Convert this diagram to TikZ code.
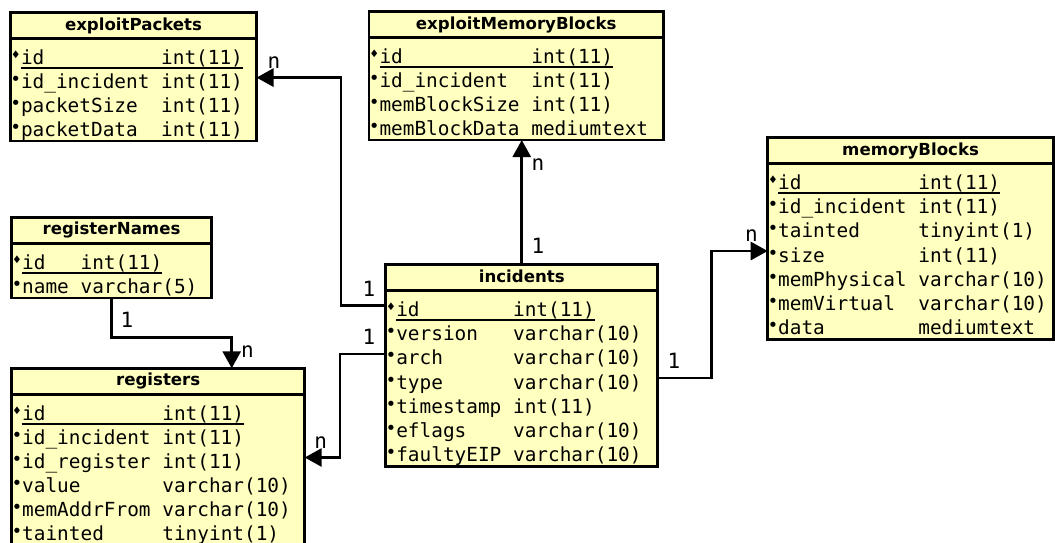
\documentclass[tikz,border=0pt]{standalone}
\usepackage{fontspec}
\usepackage{tikz}
\usetikzlibrary{positioning,arrows.meta}
\newfontfamily\ttlfont{DejaVu Sans}
\newfontfamily\rowfont{DejaVu Sans Mono}
\definecolor{tblyellow}{RGB}{255,255,192}
\newdimen\cw \cw=11.68pt
\newcommand\bul{\makebox[10.5pt][c]{\raisebox{3pt}{\fontsize{18}{18}\selectfont •}}}
\newcommand\dia{\makebox[10.5pt][c]{\raisebox{5pt}{\fontsize{13}{13}\selectfont ♦}}}
\newcommand\dbrow[2]{\bul\makebox[\nw\cw][l]{#1}#2}
\newcommand\dbkey[2]{\dia\setbox0\hbox{\makebox[\nw\cw][l]{#1}#2}\rlap{\rule[-4.5pt]{\wd0}{1.8pt}}\box0}

\begin{document}
\begin{tikzpicture}[x=1pt, y=-1pt,
  tbl/.style={draw, line width=2.8pt, fill=tblyellow, inner sep=0pt, outer sep=0pt, anchor=north west},
  ttl/.style={tbl, minimum height=26pt, font=\ttlfont\bfseries\fontsize{16.6}{18}\selectfont, text height=12pt, text depth=3pt},
  body/.style={tbl},
  field/.style={anchor=west, inner sep=0pt, outer sep=0pt, text height=22pt, text depth=0pt, align=left, font=\rowfont\fontsize{19.4}{22}\selectfont},
  rel/.style={line width=2.8pt, -{Triangle[length=17pt,width=18pt]}},
  mult/.style={font=\rowfont\fontsize{21}{22}\selectfont, inner sep=0pt}]
  \useasboundingbox (0,0) rectangle (1055,542);
  \clip (0,0) rectangle (1055,542);
  \fill[white] (0,0) rectangle (1055,542);
  \def\dy{24.1} % distance between two rows

  % exploitPackets
  \def\nw{12}
  \node[ttl, minimum width=246pt] (ep-t) at (10.5,12.5) {exploitPackets};
  \node[body, minimum width=246pt, minimum height=102.5pt] (ep) at (ep-t.south west) {};
  \foreach \nm/\ty [count=\k] in {id/int(11), id\_incident/int(11), packetSize/int(11), packetData/int(11)} {
    \node[field, text width=246pt] (ep-\k) at ([yshift={-(15+(\k-1)*\dy)*1pt}]ep.north west)
      {\ifnum\k=1 \dbkey{\nm}{\ty}\else\dbrow{\nm}{\ty}\fi};
  }

  % exploitMemoryBlocks
  \def\nw{13}
  \node[ttl, minimum width=294.5pt] (emb-t) at (369,11.5) {exploitMemoryBlocks};
  \node[body, minimum width=294.5pt, minimum height=102.5pt] (emb) at (emb-t.south west) {};
  \foreach \nm/\ty [count=\k] in {id/int(11), id\_incident/int(11), memBlockSize/int(11), memBlockData/mediumtext} {
    \node[field, text width=294.5pt] (emb-\k) at ([yshift={-(15+(\k-1)*\dy)*1pt}]emb.north west)
      {\ifnum\k=1 \dbkey{\nm}{\ty}\else\dbrow{\nm}{\ty}\fi};
  }

  % memoryBlocks
  \def\nw{12}
  \node[ttl, minimum width=285.8pt] (mb-t) at (767.7,137.7) {memoryBlocks};
  \node[body, minimum width=285.8pt, minimum height=176pt] (mb) at (mb-t.south west) {};
  \foreach \nm/\ty [count=\k] in {id/int(11), id\_incident/int(11), tainted/tinyint(1), size/int(11), memPhysical/varchar(10), memVirtual/varchar(10), data/mediumtext} {
    \node[field, text width=285.8pt] (mb-\k) at ([yshift={-(15+(\k-1)*\dy)*1pt}]mb.north west)
      {\ifnum\k=1 \dbkey{\nm}{\ty}\else\dbrow{\nm}{\ty}\fi};
  }

  % registerNames
  \def\nw{5}
  \node[ttl, minimum width=199.6pt] (rn-t) at (11.7,217.3) {registerNames};
  \node[body, minimum width=199.6pt, minimum height=54.7pt] (rn) at (rn-t.south west) {};
  \foreach \nm/\ty [count=\k] in {id/int(11), name/varchar(5)} {
    \node[field, text width=199.6pt] (rn-\k) at ([yshift={-(15+(\k-1)*\dy)*1pt}]rn.north west)
      {\ifnum\k=1 \dbkey{\nm}{\ty}\else\dbrow{\nm}{\ty}\fi};
  }

  % registers
  \def\nw{12}
  \node[ttl, minimum width=293pt] (rg-t) at (11.7,368.3) {registers};
  \node[body, minimum width=293pt, minimum height=151.5pt] (rg) at (rg-t.south west) {};
  \foreach \nm/\ty [count=\k] in {id/int(11), id\_incident/int(11), id\_register/int(11), value/varchar(10), memAddrFrom/varchar(10), tainted/tinyint(1)} {
    \node[field, text width=293pt] (rg-\k) at ([yshift={-(15+(\k-1)*\dy)*1pt}]rg.north west)
      {\ifnum\k=1 \dbkey{\nm}{\ty}\else\dbrow{\nm}{\ty}\fi};
  }

  % incidents
  \def\nw{10}
  \node[ttl, minimum width=271.9pt] (inc-t) at (385.8,264.7) {incidents};
  \node[body, minimum width=271.9pt, minimum height=175.5pt] (inc) at (inc-t.south west) {};
  \foreach \nm/\ty [count=\k] in {id/int(11), version/varchar(10), arch/varchar(10), type/varchar(10), timestamp/int(11), eflags/varchar(10), faultyEIP/varchar(10)} {
    \node[field, text width=271.9pt] (inc-\k) at ([yshift={-(15+(\k-1)*\dy)*1pt}]inc.north west)
      {\ifnum\k=1 \dbkey{\nm}{\ty}\else\dbrow{\nm}{\ty}\fi};
  }

  % relations
  \draw[rel] (inc-1.west) -- ++(-44.8,0) |- (ep-2.east);
  \draw[rel] (inc-t.north) -- (inc-t.north |- emb.south);
  \draw[rel] (inc-4.east) -- ++(54,0) |- (mb-4.west);
  \draw[rel] (rn.south) -- ++(0,39.7) -| ([xshift=73.5pt]rg-t.north);
  \draw[rel] (inc-3.west) -- ++(-45.8,0) |- (rg-3.east);

  % multiplicities
  \node[mult] (m-ep) at (274,62.5) {n};
  \node[mult] (m-inc1) at (369,289) {1};
  \node[mult] (m-emb) at (538,164.3) {n};
  \node[mult] (m-inc2) at (538,246) {1};
  \node[mult] (m-inc4) at (674,361) {1};
  \node[mult] (m-mb) at (751.5,236) {n};
  \node[mult] (m-rn) at (127,320) {1};
  \node[mult] (m-rg) at (247.5,351.6) {n};
  \node[mult] (m-inc3) at (369,336.6) {1};
  \node[mult] (m-rg3) at (320.8,442.3) {n};
\end{tikzpicture}
\end{document}
